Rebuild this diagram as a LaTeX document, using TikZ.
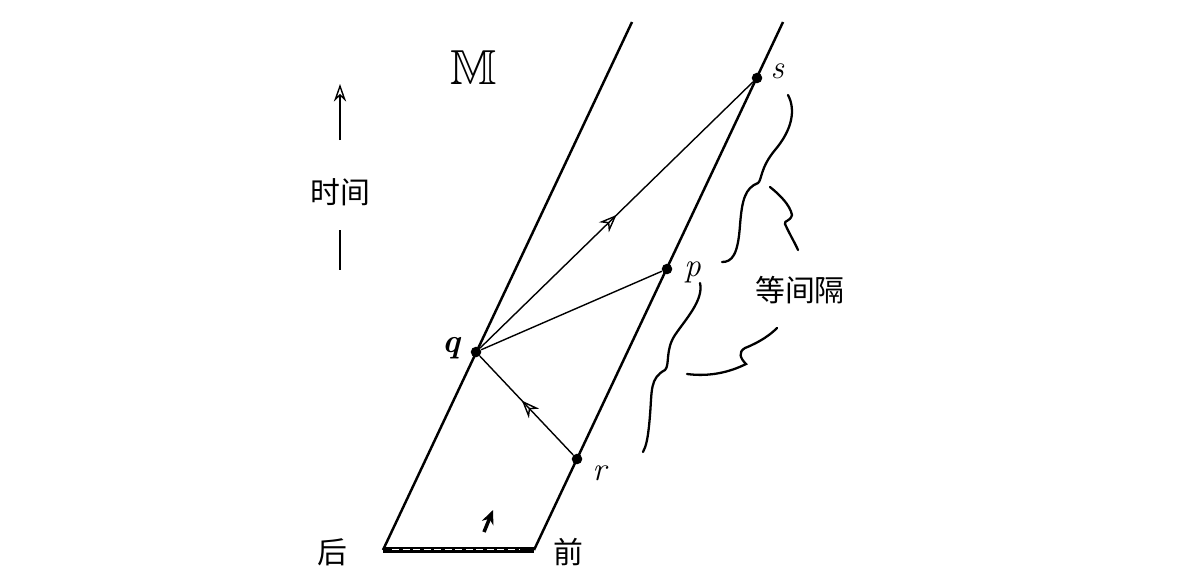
\documentclass[tikz,border=0pt]{standalone}
\usepackage{fontspec}
\usepackage{amssymb}
\newfontfamily\cjk{Noto Sans CJK SC}
\usetikzlibrary{decorations.markings,arrows.meta}
\begin{document}
\begin{tikzpicture}[x=0.02cm,y=-0.02cm,
  wl/.style={line width=1.4pt},
  thin/.style={line width=0.8pt},
  dot/.style={circle,fill,inner sep=0pt,minimum size=6pt},
  lab/.style={font=\fontsize{19}{19}\selectfont\itshape},
  cl/.style={font=\cjk\fontsize{17}{17}\selectfont},
  midarrow/.style={postaction={decorate},decoration={markings,mark=at position #1 with {\arrow{Stealth[length=10pt,width=8pt,open]}}}},
  brace/.style={line width=1.3pt,line cap=round}]
\useasboundingbox (0,0) rectangle (1192,579);
\coordinate (L0) at (383,550); \coordinate (L1) at (632,22);
\coordinate (R0) at (534,550); \coordinate (R1) at (783,22);
\node[dot] (q) at (476,352) {};
\node[dot] (p) at (667,269) {};
\node[dot] (r) at (577,459) {};
\node[dot] (s) at (757,78) {};
\draw[wl] (L0) -- (L1);
\draw[wl] (R0) -- (R1);
\draw[line width=3pt] (L0) -- (R0);
\draw[white,line width=0.5pt,dash pattern=on 4pt off 2pt] (392,549) -- (520,549);
\draw[-{Stealth[length=8pt,width=7pt]},line width=2pt] (484,532) -- (493,510);
\draw[thin,midarrow=0.55] (r) -- (q);
\draw[thin,midarrow=0.5] (q) -- (s);
\draw[thin] (q) -- (p);
\node[lab,anchor=west] at (r.east) [xshift=2pt,yshift=-8pt] {r};
\node[lab,anchor=west] at (p.east) [xshift=3pt,yshift=-2pt] {p};
\node[lab,anchor=west] at (s.east) [xshift=1pt,yshift=4pt] {s};
\node[lab,anchor=east] at (q.west) [xshift=-2pt,yshift=2pt] {\textbf{q}};
\node (M) at (474,68) {\fontsize{28}{28}\selectfont$\mathbb{M}$};
\node[cl] (t) at (340,192) {时间};
\draw[-{Stealth[length=10pt,width=7pt,open]},thin] (340,140) -- (340,84);
\draw[thin] (340,230) -- (340,270);
\node[cl] (h) at (332,552) {后};
\node[cl] (f) at (568,552) {前};
\node[cl] (e) at (800,290) {等间隔};
\draw[brace] (788,95) .. controls (796,110) and (792,130) .. (775,150) .. controls (760,168) and (762,180) .. (758,183) .. controls (745,188) and (742,200) .. (740,225) .. controls (738,255) and (732,262) .. (722,262);
\draw[brace] (770,187) .. controls (780,195) and (790,205) .. (792,215) .. controls (790,222) and (784,220) .. (785,224) .. controls (790,235) and (795,243) .. (798,250);
\draw[brace] (700,283) .. controls (704,300) and (685,320) .. (675,335) .. controls (665,350) and (670,365) .. (665,370) .. controls (650,378) and (652,390) .. (650,415) .. controls (648,440) and (646,446) .. (643,452);
\draw[brace] (687,374) .. controls (710,377) and (730,372) .. (746,364) .. controls (740,358) and (738,352) .. (745,348) .. controls (760,342) and (770,335) .. (777,328);
\end{tikzpicture}
\end{document}
